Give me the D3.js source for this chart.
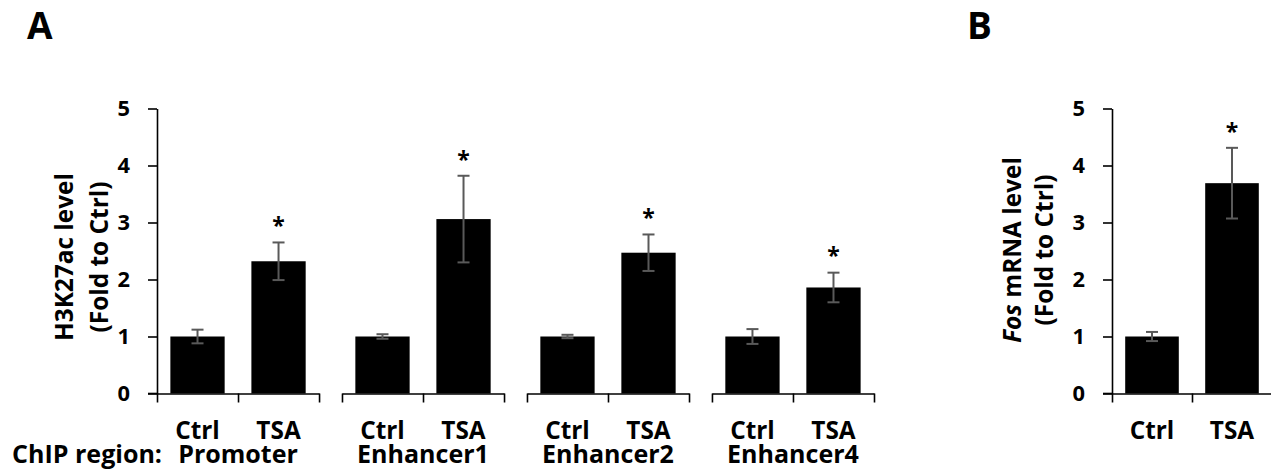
<!DOCTYPE html>
<html>
<head>
<meta charset="utf-8">
<script src="https://cdn.jsdelivr.net/npm/d3@7"></script>
<style>
  body { margin: 0; background: #fff; }
  svg { display: block; font-family: "Open Sans", sans-serif; font-weight: bold; }
</style>
</head>
<body>
<svg></svg>
<script>
// Data
const groups = ["Promoter", "Enhancer1", "Enhancer2", "Enhancer4"];
const treatments = ["Ctrl", "TSA"];
const h3k27acMean = [[1.00, 2.32], [1.00, 3.06], [1.00, 2.47], [1.00, 1.86]];
const h3k27acErr = [[0.12, 0.33], [0.04, 0.76], [0.03, 0.32], [0.13, 0.26]];
const fosMean = [1.00, 3.69];
const fosErr = [0.08, 0.62];
const yTicks = [0, 1, 2, 3, 4, 5];

const width = 1271, height = 476;
const svg = d3.select("svg").attr("width", width).attr("height", height);

const y = d3.scaleLinear().domain([0, 5]).range([393.5, 108.5]);
const errColor = "#595959";

// font size that makes `str` about `target` px wide
function fitSize(str, target, extra) {
    const t = svg.append("text").attr("font-size", 20).attr("font-style", extra || null).text(str);
    const w = t.node().getComputedTextLength();
    t.remove();
    return 20 * target / w;
}
const tickSize = fitSize("5", 12.5);
const catSize = fitSize("CtrlTSA", 89);
const groupSize = fitSize("ChIP region:", 150);
const labSize = fitSize("H3K27ac level", 168);
const starSize = fitSize("*", 12.5);
const panelSize = Math.min(fitSize("A", 26), 37);

// draw one y axis
function drawYAxis(x) {
    const g = svg.append("g")
        .attr("transform", `translate(${x},0)`)
        .call(d3.axisLeft(y).tickValues(yTicks).tickFormat(d3.format("d"))
            .tickSize(9).tickSizeOuter(0).tickPadding(18));
    g.selectAll("path, line").attr("stroke", "#000").attr("stroke-width", 1.6);
    g.selectAll("text").attr("font-size", tickSize).attr("font-family", "Open Sans")
        .attr("font-weight", "bold").attr("fill", "#000");
    // stretch the zero line under the tick
    svg.append("line").attr("x1", x - 9).attr("x2", x).attr("y1", y(0)).attr("y2", y(0))
        .attr("stroke", "#000").attr("stroke-width", 1.6);
}

// draw a bar group (Ctrl + TSA) with its own x axis segment
function drawGroup(x0, x1, means, errs) {
    const inner = d3.scaleBand().domain(treatments).range([x0, x1])
        .paddingInner(0.33).paddingOuter(0.165);
    const bound = d3.scaleLinear().domain([0, treatments.length]).range([x0, x1]);

    const rows = treatments.map((t, i) => ({t, v: means[i], e: errs[i]}));

    svg.append("g").selectAll("rect")
        .data(rows).enter().append("rect")
        .attr("x", d => inner(d.t))
        .attr("width", inner.bandwidth())
        .attr("y", d => y(d.v))
        .attr("height", d => y(0) - y(d.v))
        .attr("fill", "#000");

    const eb = svg.append("g").attr("stroke", errColor).attr("stroke-width", 2);
    rows.forEach(d => {
        const cx = inner(d.t) + inner.bandwidth() / 2;
        eb.append("line").attr("x1", cx).attr("x2", cx).attr("y1", y(d.v + d.e)).attr("y2", y(d.v - d.e));
        eb.append("line").attr("x1", cx - 6).attr("x2", cx + 6).attr("y1", y(d.v + d.e)).attr("y2", y(d.v + d.e));
        eb.append("line").attr("x1", cx - 6).attr("x2", cx + 6).attr("y1", y(d.v - d.e)).attr("y2", y(d.v - d.e));
    });

    // significance asterisk on TSA (star centre ~21px above the error cap)
    const tsa = rows[1];
    svg.append("text")
        .attr("x", inner("TSA") + inner.bandwidth() / 2)
        .attr("y", y(tsa.v + tsa.e) - 21 + starSize * 0.56)
        .attr("text-anchor", "middle")
        .attr("font-size", starSize)
        .text("*");

    const ax = svg.append("g")
        .attr("transform", `translate(0,${y(0)})`)
        .call(d3.axisBottom(bound).tickValues(d3.range(treatments.length + 1))
            .tickSize(9).tickSizeOuter(0).tickFormat(""));
    ax.selectAll("path, line").attr("stroke", "#000").attr("stroke-width", 1.6);

    svg.append("g").selectAll("text")
        .data(treatments).enter().append("text")
        .attr("x", d => inner(d) + inner.bandwidth() / 2)
        .attr("y", 439)
        .attr("text-anchor", "middle")
        .attr("font-size", catSize)
        .text(d => d);
}

// Panel A
const gx = d3.scaleBand().domain(groups).range([157, 874]).paddingInner(0.124);
drawYAxis(157);
groups.forEach((g, i) => {
    const x0 = gx(g), x1 = gx(g) + gx.bandwidth();
    drawGroup(x0, x1, h3k27acMean[i], h3k27acErr[i]);
    svg.append("text")
        .attr("x", (x0 + x1) / 2).attr("y", 463)
        .attr("text-anchor", "middle").attr("font-size", groupSize)
        .text(g);
});

svg.append("text").attr("x", 162).attr("y", 463).attr("text-anchor", "end")
    .attr("font-size", groupSize).text("ChIP region:");

const yLabA = svg.append("text").attr("transform", "translate(73,257) rotate(-90)")
    .attr("text-anchor", "middle").attr("font-size", labSize);
yLabA.append("tspan").attr("x", 0).attr("dy", 0).text("H3K27ac level");
yLabA.append("tspan").attr("x", 0).attr("dy", 35).text("(Fold to Ctrl)");

svg.append("text").attr("x", 27).attr("y", 39).attr("font-size", panelSize).text("A");

// Panel B
drawYAxis(1112);
drawGroup(1112, 1272, fosMean, fosErr);

const yLabB = svg.append("text").attr("transform", "translate(1021,250) rotate(-90)")
    .attr("text-anchor", "middle").attr("font-size", labSize);
const l1 = yLabB.append("tspan").attr("x", 0).attr("dy", 0);
l1.append("tspan").attr("font-style", "italic").text("Fos");
l1.append("tspan").text(" mRNA level");
yLabB.append("tspan").attr("x", 0).attr("dy", 32).text("(Fold to Ctrl)");

svg.append("text").attr("x", 967).attr("y", 39).attr("font-size", panelSize).text("B");
</script>
</body>
</html>
